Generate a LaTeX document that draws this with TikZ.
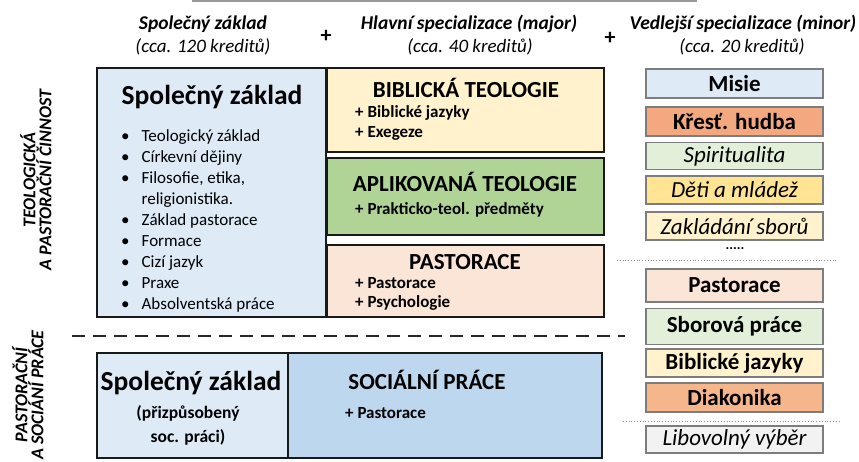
\documentclass[tikz,border=0pt]{standalone}
\usepackage{fontspec}
\setmainfont{Carlito}
\usepackage{tikz}
\usetikzlibrary{positioning}
\definecolor{zaklblue}{RGB}{222,235,247}
\definecolor{socblue}{RGB}{189,215,238}
\definecolor{bibyellow}{RGB}{255,242,204}
\definecolor{aplgreen}{RGB}{176,212,150}
\definecolor{pastpeach}{RGB}{251,229,214}
\definecolor{lightgreen}{RGB}{226,240,217}
\definecolor{hudbaorange}{RGB}{243,168,128}
\definecolor{detiyellow}{RGB}{255,228,148}
\definecolor{diakorange}{RGB}{245,182,140}
\definecolor{libgray}{RGB}{242,242,242}
\definecolor{minorline}{RGB}{125,125,125}

\begin{document}
\begin{tikzpicture}[x=1pt,y=-1pt,
      mainbox/.style={draw=black!90,line width=2pt,inner sep=0pt},
      minorbox/.style={draw=minorline,line width=1.3pt,inner sep=0pt,minimum width=177pt},
      minb/.style={minorbox,font=\fontsize{23}{27}\selectfont\bfseries},
      mini/.style={minorbox,font=\fontsize{23}{27}\selectfont\itshape},
      hdr/.style={font=\fontsize{19.5}{22}\selectfont\bfseries\itshape},
      hdrsub/.style={font=\fontsize{19}{22}\selectfont\itshape},
      plus/.style={font=\fontsize{22}{24}\selectfont\bfseries},
      ttl/.style={font=\fontsize{23}{27}\selectfont\bfseries},
      item/.style={font=\fontsize{17}{20}\selectfont\bfseries,anchor=west,inner sep=0pt},
      side/.style={font=\fontsize{18}{16}\selectfont\bfseries\itshape,rotate=90,align=center}]
    \useasboundingbox (0,0) rectangle (859,461);
    \draw[black!40,line width=1.5pt] (192,0.8) -- (697,0.8);
    % column headers
    \node[hdr] (hBase) at (203,24) {Společný základ};
    \node[hdrsub] (sBase) at (203,47) {(cca. 120 kreditů)};
    \node[plus] (p1) at (326,36) {+};
    \node[hdr] (hMajor) at (469,24) {Hlavní specializace (major)};
    \node[hdrsub] (sMajor) at (470,47) {(cca. 40 kreditů)};
    \node[plus] (p2) at (610,38) {+};
    \node[hdr] (hMinor) at (743,24) {Vedlejší specializace (minor)};
    \node[hdrsub] (sMinor) at (742,47) {(cca. 20 kreditů)};
    % side labels
    \node[side] (sTeol) at (36,180) {TEOLOGICKÁ\\A PASTORAČNÍ ČINNOST};
    \node[side] (sSoc) at (28,395) {PASTORAČNÍ\\A SOCIÁNÍ PRÁCE};
    % teologicka a pastoracni cinnost
    \node[mainbox,fill=zaklblue,minimum width=229pt,minimum height=249pt] (zakl) at (211.5,192.5) {};
    \node[font=\fontsize{27.5}{32}\selectfont\bfseries] (zaklT) at (212,97) {Společný základ};
    \node[font=\fontsize{17}{21}\selectfont,anchor=north west,inner sep=0pt] (zaklL) at (121,127)
      {\begin{tabular}{@{}l@{\hspace{12pt}}l@{}}
        \textbullet & Teologický základ\\
        \textbullet & Církevní dějiny\\
        \textbullet & Filosofie, etika,\\
                    & religionistika.\\
        \textbullet & Základ pastorace\\
        \textbullet & Formace\\
        \textbullet & Cizí jazyk\\
        \textbullet & Praxe\\
        \textbullet & Absolventská práce
      \end{tabular}};
    \node[mainbox,fill=bibyellow,minimum width=277pt,minimum height=84pt] (bib) at (465,110) {};
    \node[ttl] (bibT) at (466,88) {BIBLICKÁ TEOLOGIE};
    \node[item] (bib1) at (355,113) {+ Biblické jazyky};
    \node[item] (bib2) at (355,133) {+ Exegeze};
    \node[mainbox,fill=aplgreen,minimum width=277pt,minimum height=77pt] (apl) at (465,196.5) {};
    \node[ttl] (aplT) at (465,182) {APLIKOVANÁ TEOLOGIE};
    \node[item] (apl1) at (355,210) {+ Prakticko-teol. předměty};
    \node[mainbox,fill=pastpeach,minimum width=277pt,minimum height=72pt] (past) at (465,281) {};
    \node[ttl] (pastT) at (465,262) {PASTORACE};
    \node[item] (past1) at (355,283) {+ Pastorace};
    \node[item] (past2) at (355,303) {+ Psychologie};
    % pastoracni a socialni prace
    \draw[black!85,line width=2pt,dash pattern=on 13pt off 8pt] (72,336) -- (625,336);
    \node[mainbox,fill=zaklblue,minimum width=191pt,minimum height=105pt] (zakl2) at (192.5,405.5) {};
    \node[font=\fontsize{27.5}{32}\selectfont\bfseries] (zakl2T) at (191,383) {Společný základ};
    \node[font=\fontsize{17.5}{24}\selectfont\bfseries,align=center] (zakl2L) at (188,425) {(přizpůsobený\\soc. práci)};
    \node[mainbox,fill=socblue,minimum width=314pt,minimum height=105pt] (soc) at (445,405.5) {};
    \node[ttl] (socT) at (427,380) {SOCIÁLNÍ PRÁCE};
    \node[item] (soc1) at (345,413) {+ Pastorace};
    % vedlejsi specializace
    \node[minb,fill=zaklblue,minimum height=29pt] (misie) at (734.5,83.5) {Misie};
    \node[minb,fill=hudbaorange,minimum height=29pt] (hudba) at (734.5,121.5) {Křesť. hudba};
    \node[mini,fill=lightgreen,minimum height=27pt] (spir) at (734.5,156) {Spiritualita};
    \node[mini,fill=detiyellow,minimum height=28pt] (deti) at (734.5,190) {Děti a mládež};
    \node[mini,fill=bibyellow,minimum height=28pt] (sbory) at (734.5,226) {Zakládání sborů};
    \node[font=\fontsize{14}{16}\selectfont\bfseries] (dots) at (735,249) {.....};
    \draw[black!45,line width=0.8pt,dotted] (617,260) -- (838,260);
    \node[minb,fill=pastpeach,minimum height=33pt] (mpast) at (734.5,285.5) {Pastorace};
    \node[minb,fill=lightgreen,minimum height=36pt] (sbor) at (734.5,326.5) {Sborová práce};
    \node[minb,fill=bibyellow,minimum height=28pt] (jaz) at (734.5,363) {Biblické jazyky};
    \node[minb,fill=diakorange,minimum height=29pt] (diak) at (734.5,397.5) {Diakonika};
    \draw[black!45,line width=0.8pt,dotted] (623,421) -- (840,421);
    \node[mini,fill=libgray,minimum height=27pt] (lib) at (734.5,439.5) {Libovolný výběr};
  \end{tikzpicture}
\end{document}
